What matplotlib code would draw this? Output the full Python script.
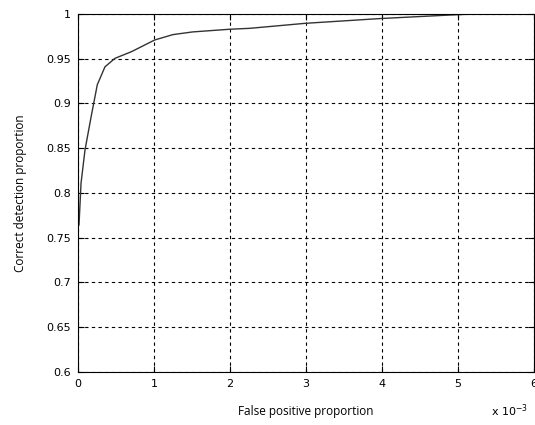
import matplotlib.pyplot as plt
import numpy as np

# false positive proportion (in units of 1e-3) vs correct detection proportion
fp = [0.0, 0.013, 0.04, 0.092, 0.17, 0.254, 0.355, 0.487, 0.706, 1.01, 1.25,
      1.51, 2.0, 2.26, 2.99, 3.99, 4.9, 5.2]
cd = [0.764, 0.764, 0.811, 0.848, 0.884, 0.921, 0.941, 0.9505, 0.958, 0.971,
      0.977, 0.980, 0.983, 0.984, 0.9896, 0.995, 0.9989, 1.0]

xticks = [0, 1, 2, 3, 4, 5, 6]
yticks = [0.6, 0.65, 0.7, 0.75, 0.8, 0.85, 0.9, 0.95, 1]

fig = plt.figure(figsize=(5.35, 4.25), dpi=100)
ax = fig.add_axes([0.1458, 0.125, 0.852, 0.842])

ax.plot(fp, cd, color='#333333', linewidth=1.0)

ax.set_xlim(0, 6)
ax.set_ylim(0.6, 1)
ax.set_xticks(xticks)
ax.set_yticks(yticks)
ax.set_xticklabels([f'{v:g}' for v in xticks])
ax.set_yticklabels([f'{v:g}' for v in yticks])
ax.tick_params(direction='in', length=4, labelsize=8, top=True, right=True, pad=5)
ax.grid(True, color='black', linestyle=(0, (3, 3)), linewidth=0.8)
for s in ax.spines.values():
    s.set_linewidth(0.8)

ax.set_xlabel('False positive proportion', fontsize=8.5, family='Open Sans', labelpad=12)
ax.set_ylabel('Correct detection proportion', fontsize=8.5, family='Open Sans', labelpad=14)
ax.text(0.988, -0.085, r'x 10$^{-3}$', transform=ax.transAxes, fontsize=8,
        va='top', ha='right')

fig.savefig('out.png', dpi=100)
